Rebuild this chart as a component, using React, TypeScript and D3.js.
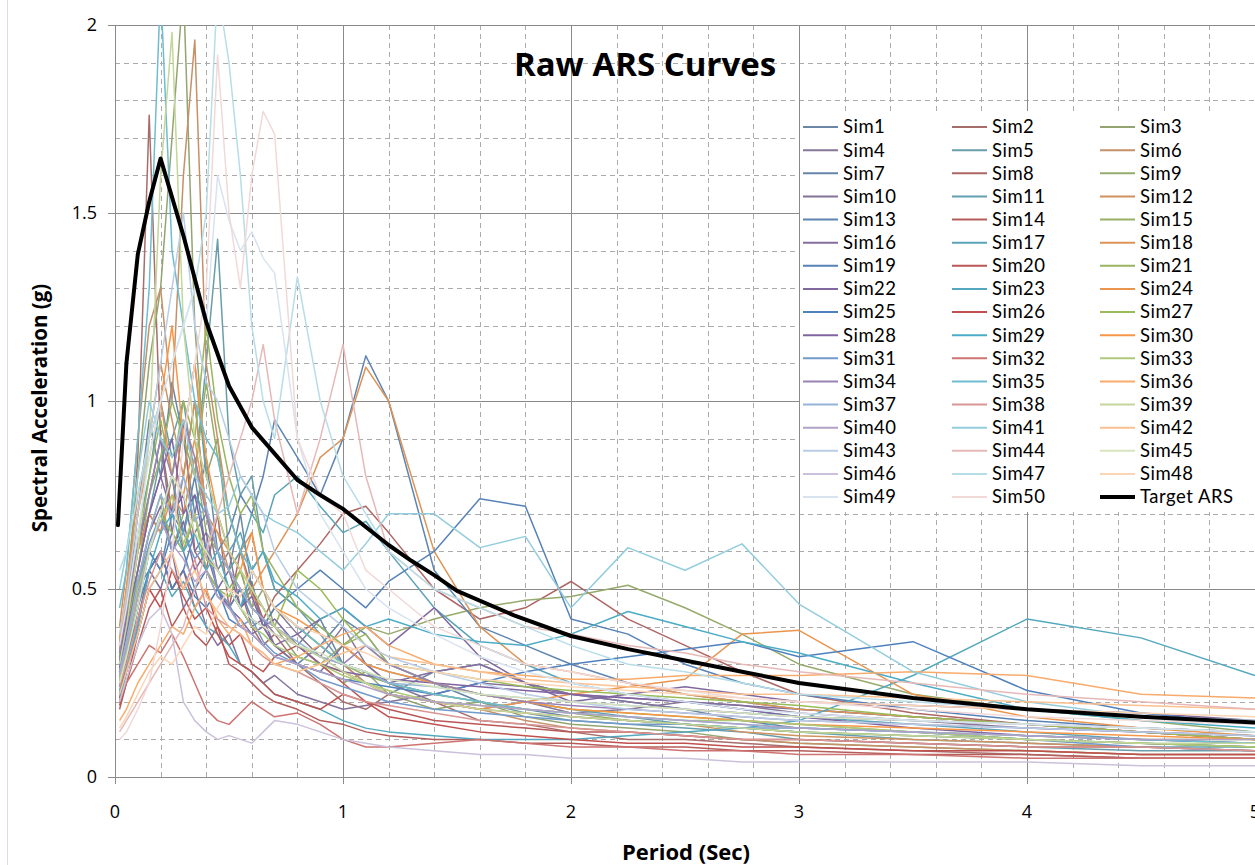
import React from 'react';
import * as d3 from 'd3';

// ---------------- DATA ----------------
const PERIODS = [0.02, 0.05, 0.1, 0.15, 0.2, 0.25, 0.3, 0.35, 0.4, 0.45, 0.5, 0.55, 0.6, 0.65, 0.7, 0.8, 0.9, 1.0, 1.1, 1.2, 1.4, 1.6, 1.8, 2.0, 2.25, 2.5, 2.75, 3.0, 3.5, 4.0, 4.5, 5.0];

const SIM1 = [0.32, 0.45, 0.7, 0.95, 0.8, 1.05, 0.9, 0.7, 0.85, 0.6, 0.55, 0.7, 0.5, 0.45, 0.4, 0.35, 0.42, 0.3, 0.25, 0.22, 0.28, 0.3, 0.25, 0.22, 0.2, 0.18, 0.15, 0.13, 0.12, 0.1, 0.09, 0.08];
const SIM2 = [0.28, 0.4, 0.85, 1.76, 0.9, 0.7, 0.95, 0.6, 0.55, 0.7, 0.45, 0.5, 0.4, 0.35, 0.38, 0.3, 0.25, 0.2, 0.18, 0.22, 0.2, 0.15, 0.14, 0.12, 0.1, 0.1, 0.09, 0.08, 0.07, 0.06, 0.05, 0.05];
const SIM3 = [0.35, 0.5, 0.8, 1.1, 1.3, 1.7, 2.1, 1.2, 0.8, 0.9, 0.6, 0.55, 0.45, 0.5, 0.4, 0.32, 0.3, 0.25, 0.28, 0.22, 0.18, 0.2, 0.16, 0.14, 0.13, 0.12, 0.1, 0.09, 0.08, 0.07, 0.06, 0.06];
const SIM4 = [0.3, 0.42, 0.6, 0.75, 0.9, 0.65, 0.8, 1.0, 0.7, 0.55, 0.6, 0.45, 0.5, 0.4, 0.45, 0.38, 0.32, 0.4, 0.3, 0.25, 0.2, 0.18, 0.2, 0.17, 0.18, 0.2, 0.19, 0.17, 0.15, 0.13, 0.12, 0.1];
const SIM5 = [0.25, 0.35, 0.55, 0.7, 0.85, 0.9, 1.0, 0.8, 1.1, 1.43, 0.9, 0.75, 0.8, 0.6, 0.5, 0.45, 0.38, 0.3, 0.28, 0.25, 0.22, 0.2, 0.17, 0.15, 0.14, 0.13, 0.12, 0.1, 0.09, 0.08, 0.07, 0.07];
const SIM6 = [0.4, 0.55, 0.9, 1.2, 1.3, 1.0, 1.6, 1.96, 1.1, 0.9, 0.7, 0.6, 0.65, 0.5, 0.45, 0.4, 0.35, 0.3, 0.25, 0.22, 0.2, 0.18, 0.15, 0.13, 0.12, 0.11, 0.1, 0.09, 0.08, 0.07, 0.06, 0.06];
const SIM7 = [0.22, 0.3, 0.45, 0.6, 0.55, 0.7, 0.65, 0.8, 0.6, 0.55, 0.5, 0.45, 0.52, 0.4, 0.35, 0.3, 0.35, 0.42, 0.38, 0.3, 0.25, 0.2, 0.18, 0.16, 0.15, 0.14, 0.13, 0.12, 0.11, 0.1, 0.09, 0.08];
const SIM8 = [0.3, 0.4, 0.55, 0.7, 0.65, 0.8, 0.6, 0.7, 0.55, 0.5, 0.45, 0.6, 0.5, 0.42, 0.48, 0.55, 0.62, 0.7, 0.72, 0.65, 0.5, 0.42, 0.45, 0.52, 0.42, 0.35, 0.28, 0.22, 0.17, 0.14, 0.12, 0.1];
const SIM9 = [0.27, 0.35, 0.5, 0.65, 0.75, 0.6, 0.7, 0.85, 0.65, 0.6, 0.5, 0.55, 0.45, 0.42, 0.38, 0.35, 0.3, 0.35, 0.4, 0.38, 0.42, 0.45, 0.47, 0.48, 0.51, 0.45, 0.38, 0.3, 0.22, 0.18, 0.15, 0.12];
const SIM10 = [0.2, 0.28, 0.4, 0.55, 0.5, 0.6, 0.45, 0.5, 0.4, 0.35, 0.38, 0.3, 0.28, 0.25, 0.27, 0.22, 0.2, 0.18, 0.19, 0.2, 0.22, 0.25, 0.24, 0.22, 0.2, 0.18, 0.17, 0.16, 0.15, 0.14, 0.13, 0.12];
const SIM11 = [0.33, 0.45, 0.65, 0.8, 1.0, 0.85, 0.9, 1.1, 0.8, 0.7, 0.6, 0.65, 0.55, 0.6, 0.5, 0.45, 0.4, 0.35, 0.3, 0.28, 0.25, 0.22, 0.2, 0.18, 0.16, 0.14, 0.13, 0.12, 0.1, 0.09, 0.08, 0.08];
const SIM12 = [0.36, 0.5, 0.75, 0.9, 1.1, 0.95, 0.8, 1.0, 0.7, 0.65, 0.55, 0.6, 0.48, 0.45, 0.4, 0.35, 0.3, 0.28, 0.25, 0.22, 0.2, 0.18, 0.17, 0.16, 0.15, 0.14, 0.12, 0.11, 0.1, 0.09, 0.08, 0.07];
const SIM13 = [0.24, 0.32, 0.5, 0.55, 0.6, 0.5, 0.55, 0.65, 0.7, 0.6, 0.65, 0.75, 0.7, 0.8, 0.95, 0.85, 0.75, 0.9, 1.12, 1.0, 0.55, 0.4, 0.35, 0.3, 0.25, 0.22, 0.2, 0.18, 0.16, 0.14, 0.12, 0.11];
const SIM14 = [0.18, 0.25, 0.35, 0.45, 0.5, 0.4, 0.45, 0.38, 0.35, 0.4, 0.3, 0.28, 0.25, 0.22, 0.2, 0.18, 0.15, 0.14, 0.12, 0.11, 0.1, 0.1, 0.09, 0.09, 0.08, 0.08, 0.07, 0.07, 0.06, 0.06, 0.05, 0.05];
const SIM15 = [0.3, 0.38, 0.55, 0.75, 0.85, 1.0, 0.9, 0.8, 1.05, 0.85, 0.7, 0.6, 0.55, 0.5, 0.45, 0.4, 0.35, 0.3, 0.27, 0.25, 0.22, 0.2, 0.18, 0.17, 0.15, 0.14, 0.13, 0.12, 0.11, 0.1, 0.09, 0.08];
const SIM16 = [0.29, 0.4, 0.6, 0.7, 0.8, 0.7, 0.75, 0.6, 0.65, 0.5, 0.55, 0.45, 0.4, 0.42, 0.35, 0.3, 0.28, 0.35, 0.3, 0.25, 0.28, 0.3, 0.25, 0.22, 0.21, 0.2, 0.19, 0.18, 0.16, 0.14, 0.12, 0.1];
const SIM17 = [0.23, 0.3, 0.45, 0.6, 0.7, 0.8, 0.65, 0.75, 0.7, 0.6, 0.55, 0.6, 0.7, 0.65, 0.75, 0.8, 0.72, 0.65, 0.68, 0.6, 0.45, 0.35, 0.3, 0.25, 0.22, 0.2, 0.18, 0.16, 0.14, 0.12, 0.1, 0.09];
const SIM18 = [0.34, 0.45, 0.6, 0.7, 0.65, 0.75, 0.7, 0.85, 0.7, 0.65, 0.6, 0.55, 0.5, 0.55, 0.6, 0.7, 0.85, 0.9, 1.09, 1.0, 0.6, 0.4, 0.3, 0.28, 0.25, 0.22, 0.2, 0.18, 0.16, 0.14, 0.12, 0.1];
const SIM19 = [0.26, 0.35, 0.5, 0.6, 0.55, 0.65, 0.6, 0.5, 0.55, 0.48, 0.45, 0.5, 0.42, 0.4, 0.45, 0.5, 0.55, 0.5, 0.45, 0.52, 0.6, 0.74, 0.72, 0.42, 0.38, 0.3, 0.25, 0.22, 0.18, 0.15, 0.13, 0.12];
const SIM20 = [0.21, 0.3, 0.42, 0.55, 0.6, 0.5, 0.55, 0.45, 0.5, 0.4, 0.35, 0.38, 0.3, 0.28, 0.32, 0.35, 0.3, 0.25, 0.2, 0.18, 0.15, 0.14, 0.13, 0.12, 0.12, 0.11, 0.1, 0.1, 0.09, 0.08, 0.08, 0.07];
const SIM21 = [0.32, 0.42, 0.6, 0.8, 0.95, 0.8, 1.0, 0.9, 1.2, 0.95, 0.8, 0.7, 0.75, 0.6, 0.55, 0.45, 0.4, 0.35, 0.38, 0.3, 0.25, 0.22, 0.2, 0.18, 0.17, 0.16, 0.15, 0.14, 0.12, 0.11, 0.1, 0.1];
const SIM22 = [0.28, 0.38, 0.52, 0.65, 0.72, 0.6, 0.68, 0.55, 0.6, 0.5, 0.45, 0.42, 0.38, 0.4, 0.35, 0.38, 0.42, 0.45, 0.4, 0.35, 0.45, 0.32, 0.25, 0.2, 0.22, 0.24, 0.22, 0.2, 0.19, 0.18, 0.17, 0.15];
const SIM23 = [0.22, 0.28, 0.38, 0.5, 0.55, 0.48, 0.52, 0.45, 0.4, 0.38, 0.35, 0.3, 0.28, 0.25, 0.22, 0.2, 0.18, 0.15, 0.13, 0.12, 0.11, 0.1, 0.1, 0.1, 0.11, 0.12, 0.13, 0.15, 0.27, 0.42, 0.37, 0.27];
const SIM24 = [0.35, 0.48, 0.7, 0.9, 1.0, 0.8, 0.75, 0.9, 0.7, 0.6, 0.55, 0.5, 0.45, 0.42, 0.4, 0.35, 0.3, 0.28, 0.25, 0.22, 0.2, 0.18, 0.2, 0.22, 0.24, 0.26, 0.38, 0.39, 0.22, 0.16, 0.13, 0.11];
const SIM25 = [0.24, 0.3, 0.45, 0.55, 0.6, 0.5, 0.55, 0.48, 0.45, 0.5, 0.42, 0.4, 0.38, 0.35, 0.32, 0.3, 0.28, 0.26, 0.25, 0.24, 0.22, 0.25, 0.28, 0.3, 0.32, 0.34, 0.36, 0.32, 0.36, 0.23, 0.17, 0.14];
const SIM26 = [0.19, 0.25, 0.38, 0.5, 0.45, 0.55, 0.48, 0.42, 0.45, 0.38, 0.32, 0.3, 0.28, 0.25, 0.22, 0.2, 0.18, 0.22, 0.2, 0.16, 0.14, 0.12, 0.11, 0.1, 0.09, 0.09, 0.08, 0.08, 0.07, 0.07, 0.06, 0.06];
const SIM27 = [0.25, 0.32, 0.48, 0.6, 0.7, 0.65, 0.6, 0.7, 0.55, 0.5, 0.48, 0.55, 0.5, 0.45, 0.4, 0.55, 0.5, 0.42, 0.35, 0.3, 0.28, 0.26, 0.24, 0.23, 0.22, 0.21, 0.2, 0.19, 0.16, 0.14, 0.12, 0.1];
const SIM28 = [0.31, 0.42, 0.55, 0.7, 0.8, 0.9, 0.7, 0.75, 0.6, 0.55, 0.5, 0.45, 0.48, 0.4, 0.42, 0.35, 0.3, 0.28, 0.27, 0.26, 0.25, 0.24, 0.23, 0.22, 0.21, 0.2, 0.18, 0.16, 0.13, 0.11, 0.1, 0.09];
const SIM29 = [0.2, 0.28, 0.4, 0.55, 0.65, 0.7, 0.6, 0.65, 0.55, 0.6, 0.5, 0.45, 0.55, 0.6, 0.52, 0.48, 0.42, 0.45, 0.4, 0.42, 0.38, 0.36, 0.35, 0.38, 0.44, 0.4, 0.36, 0.33, 0.25, 0.18, 0.15, 0.13];
const SIM30 = [0.37, 0.5, 0.7, 0.85, 1.0, 1.2, 0.9, 1.1, 0.85, 0.7, 0.6, 0.55, 0.65, 0.5, 0.45, 0.42, 0.38, 0.35, 0.3, 0.28, 0.25, 0.22, 0.2, 0.18, 0.17, 0.16, 0.15, 0.14, 0.13, 0.12, 0.11, 0.1];
const SIM31 = [0.27, 0.36, 0.5, 0.62, 0.7, 0.6, 0.65, 0.58, 0.62, 0.5, 0.46, 0.4, 0.42, 0.36, 0.33, 0.3, 0.26, 0.24, 0.22, 0.2, 0.18, 0.17, 0.16, 0.15, 0.14, 0.14, 0.13, 0.13, 0.12, 0.1, 0.08, 0.07];
const SIM32 = [0.2, 0.25, 0.3, 0.35, 0.33, 0.38, 0.32, 0.25, 0.18, 0.15, 0.14, 0.17, 0.2, 0.18, 0.16, 0.17, 0.14, 0.1, 0.08, 0.08, 0.09, 0.1, 0.09, 0.08, 0.08, 0.07, 0.07, 0.06, 0.06, 0.05, 0.05, 0.05];
const SIM33 = [0.26, 0.34, 0.5, 0.6, 0.68, 0.75, 0.62, 0.7, 0.58, 0.55, 0.5, 0.45, 0.4, 0.38, 0.35, 0.32, 0.3, 0.27, 0.25, 0.23, 0.2, 0.19, 0.18, 0.17, 0.16, 0.15, 0.15, 0.14, 0.12, 0.1, 0.09, 0.08];
const SIM34 = [0.33, 0.44, 0.62, 0.75, 0.9, 0.8, 0.95, 0.85, 0.7, 0.6, 0.55, 0.5, 0.45, 0.42, 0.38, 0.35, 0.32, 0.3, 0.35, 0.3, 0.25, 0.22, 0.2, 0.19, 0.18, 0.17, 0.16, 0.15, 0.14, 0.13, 0.12, 0.11];
const SIM35 = [0.45, 0.55, 0.9, 1.3, 2.1, 1.4, 1.2, 1.0, 0.9, 0.85, 0.7, 0.6, 0.55, 0.5, 0.45, 0.4, 0.35, 0.3, 0.28, 0.25, 0.22, 0.2, 0.18, 0.17, 0.16, 0.15, 0.14, 0.13, 0.12, 0.11, 0.1, 0.09];
const SIM36 = [0.15, 0.18, 0.25, 0.3, 0.35, 0.4, 0.38, 0.45, 0.5, 0.42, 0.38, 0.42, 0.35, 0.33, 0.3, 0.32, 0.35, 0.38, 0.4, 0.35, 0.3, 0.28, 0.27, 0.26, 0.26, 0.27, 0.27, 0.27, 0.28, 0.27, 0.22, 0.21];
const SIM37 = [0.28, 0.36, 0.52, 0.65, 0.75, 0.7, 0.8, 0.68, 0.72, 0.6, 0.55, 0.5, 0.45, 0.42, 0.4, 0.36, 0.32, 0.3, 0.28, 0.25, 0.24, 0.22, 0.21, 0.2, 0.19, 0.18, 0.17, 0.16, 0.15, 0.14, 0.13, 0.12];
const SIM38 = [0.24, 0.3, 0.42, 0.52, 0.6, 0.55, 0.5, 0.58, 0.45, 0.42, 0.4, 0.38, 0.35, 0.32, 0.3, 0.28, 0.25, 0.22, 0.2, 0.19, 0.17, 0.15, 0.14, 0.13, 0.12, 0.11, 0.1, 0.1, 0.09, 0.08, 0.08, 0.07];
const SIM39 = [0.3, 0.4, 0.6, 0.9, 1.6, 1.98, 1.2, 0.9, 0.8, 0.7, 0.6, 0.55, 0.5, 0.45, 0.4, 0.35, 0.32, 0.28, 0.25, 0.22, 0.2, 0.18, 0.17, 0.16, 0.15, 0.14, 0.13, 0.12, 0.11, 0.1, 0.09, 0.09];
const SIM40 = [0.27, 0.34, 0.48, 0.6, 0.68, 0.62, 0.58, 0.52, 0.55, 0.48, 0.45, 0.4, 0.38, 0.35, 0.32, 0.3, 0.28, 0.26, 0.24, 0.22, 0.2, 0.19, 0.18, 0.17, 0.16, 0.15, 0.14, 0.13, 0.12, 0.11, 0.1, 0.1];
const SIM41 = [0.5, 0.6, 0.8, 1.0, 0.9, 0.85, 0.95, 0.8, 0.75, 0.7, 0.72, 0.8, 0.75, 0.7, 0.68, 0.65, 0.6, 0.55, 0.62, 0.7, 0.7, 0.61, 0.64, 0.45, 0.61, 0.55, 0.62, 0.46, 0.28, 0.2, 0.16, 0.14];
const SIM42 = [0.22, 0.28, 0.38, 0.5, 0.55, 0.6, 0.5, 0.55, 0.48, 0.44, 0.4, 0.38, 0.35, 0.33, 0.3, 0.28, 0.3, 0.33, 0.35, 0.32, 0.3, 0.28, 0.26, 0.25, 0.24, 0.23, 0.22, 0.22, 0.21, 0.2, 0.19, 0.18];
const SIM43 = [0.38, 0.48, 0.7, 0.9, 1.1, 1.3, 1.5, 1.2, 1.05, 1.0, 0.9, 0.8, 0.75, 0.7, 0.6, 0.5, 0.45, 0.4, 0.35, 0.32, 0.28, 0.25, 0.22, 0.2, 0.18, 0.17, 0.16, 0.15, 0.14, 0.13, 0.12, 0.11];
const SIM44 = [0.12, 0.15, 0.2, 0.25, 0.3, 0.35, 0.4, 0.5, 0.6, 0.7, 0.8, 0.9, 1.0, 1.15, 0.95, 0.7, 0.9, 1.15, 0.8, 0.6, 0.5, 0.45, 0.4, 0.38, 0.35, 0.33, 0.3, 0.28, 0.25, 0.22, 0.2, 0.18];
const SIM45 = [0.25, 0.32, 0.45, 0.6, 0.7, 0.8, 0.75, 0.65, 0.6, 0.55, 0.5, 0.45, 0.42, 0.4, 0.38, 0.35, 0.33, 0.3, 0.28, 0.26, 0.24, 0.22, 0.21, 0.2, 0.19, 0.18, 0.17, 0.16, 0.15, 0.14, 0.13, 0.12];
const SIM46 = [0.2, 0.26, 0.35, 0.42, 0.45, 0.38, 0.2, 0.15, 0.12, 0.1, 0.11, 0.1, 0.09, 0.12, 0.15, 0.14, 0.12, 0.1, 0.09, 0.08, 0.07, 0.06, 0.06, 0.05, 0.05, 0.05, 0.04, 0.04, 0.04, 0.04, 0.03, 0.03];
const SIM47 = [0.55, 0.6, 0.75, 0.9, 1.0, 1.1, 1.2, 1.3, 1.5, 2.1, 1.9, 1.6, 1.2, 1.0, 0.9, 1.33, 1.0, 0.8, 0.7, 0.6, 0.5, 0.45, 0.4, 0.35, 0.3, 0.28, 0.25, 0.22, 0.2, 0.18, 0.16, 0.15];
const SIM48 = [0.13, 0.16, 0.22, 0.28, 0.32, 0.3, 0.35, 0.4, 0.38, 0.45, 0.5, 0.48, 0.55, 0.5, 0.45, 0.4, 0.38, 0.35, 0.33, 0.3, 0.28, 0.26, 0.25, 0.24, 0.23, 0.22, 0.21, 0.2, 0.19, 0.18, 0.17, 0.16];
const SIM49 = [0.35, 0.45, 0.65, 0.85, 1.0, 1.1, 1.2, 1.3, 1.2, 1.6, 1.48, 1.4, 1.45, 1.38, 1.34, 0.9, 0.7, 0.6, 0.5, 0.45, 0.38, 0.32, 0.28, 0.25, 0.22, 0.2, 0.18, 0.17, 0.15, 0.14, 0.13, 0.12];
const SIM50 = [0.1, 0.12, 0.18, 0.25, 0.4, 0.6, 0.9, 1.1, 1.3, 1.92, 1.5, 1.3, 1.6, 1.77, 1.71, 0.9, 0.75, 0.7, 0.55, 0.5, 0.4, 0.35, 0.3, 0.28, 0.25, 0.23, 0.21, 0.2, 0.18, 0.16, 0.15, 0.14];

const SIMS = [SIM1, SIM2, SIM3, SIM4, SIM5, SIM6, SIM7, SIM8, SIM9, SIM10, SIM11, SIM12, SIM13, SIM14, SIM15, SIM16, SIM17, SIM18, SIM19, SIM20, SIM21, SIM22, SIM23, SIM24, SIM25, SIM26, SIM27, SIM28, SIM29, SIM30, SIM31, SIM32, SIM33, SIM34, SIM35, SIM36, SIM37, SIM38, SIM39, SIM40, SIM41, SIM42, SIM43, SIM44, SIM45, SIM46, SIM47, SIM48, SIM49, SIM50];
const SIM_NAMES = SIMS.map((_, i) => `Sim${i + 1}`);

const TARGET_PERIODS = [0.013, 0.05, 0.1, 0.15, 0.2, 0.3, 0.4, 0.5, 0.6, 0.7, 0.8, 0.9, 1.0, 1.1, 1.2, 1.3, 1.4, 1.5, 1.75, 2.0, 2.25, 2.5, 2.75, 3.0, 3.5, 4.0, 4.5, 5.0];
const TARGET_VALUES = [0.67, 1.1, 1.39, 1.53, 1.645, 1.44, 1.21, 1.04, 0.93, 0.86, 0.79, 0.75, 0.713, 0.665, 0.617, 0.575, 0.537, 0.495, 0.43, 0.375, 0.34, 0.31, 0.28, 0.25, 0.21, 0.18, 0.16, 0.145];
const TARGET_NAME = 'Target ARS';

const X_TICKS = [0, 1, 2, 3, 4, 5];
const Y_TICKS = [0, 0.5, 1, 1.5, 2];
const Y_TICK_LABELS = ['0', '0.5', '1', '1.5', '2'];

const TITLE = 'Raw ARS Curves';
const X_TITLE = 'Period (Sec)';
const Y_TITLE = 'Spectral Acceleration (g)';

// ---------------- STYLE ----------------
const BASE_COLORS = ['#4F81BD', '#C0504D', '#9BBB59', '#8064A2', '#4BACC6', '#F79646'];
function simColor(i: number): string {
  const k = Math.floor(i / 6);
  const c = BASE_COLORS[i % 6];
  if (k < 4) return d3.interpolateRgb(c, '#8c8c8c')((4 - k) * 0.12);
  return d3.interpolateRgb(c, '#ffffff')(Math.min(0.78, (k - 4) * 0.2));
}

const FONT = "'Open Sans', 'Noto Sans', sans-serif";
const LEGEND_FONT = "Lato, 'Open Sans', sans-serif";

export default function App() {
  const W = 1255;
  const H = 865;
  const x = d3.scaleLinear().domain([0, 5]).range([115, 1255]);
  const y = d3.scaleLinear().domain([0, 2]).range([777, 25]);

  const line = d3
    .line<[number, number]>()
    .x((d) => x(d[0]))
    .y((d) => y(d[1]))
    .curve(d3.curveLinear);

  const minorX = d3.range(0, 5.001, 0.2).filter((v) => Math.abs(v - Math.round(v)) > 1e-6);
  const minorY = d3.range(0, 2.001, 0.1).filter((v) => Math.abs(v * 2 - Math.round(v * 2)) > 1e-6);

  const [x0, x1] = x.range();
  const [y0, y1] = y.range();

  const legendItems = [...SIM_NAMES.map((n, i) => ({ name: n, color: simColor(i), w: 2 })), { name: TARGET_NAME, color: '#000', w: 4 }];
  const colSample = [803, 952, 1100];
  const colText = [843, 992, 1140];

  return (
    <svg width={W} height={H} style={{ position: 'absolute', left: 0, top: 0, background: '#fff' }} fontFamily={FONT}>
      <defs>
        <clipPath id="plotclip">
          <rect x={x0} y={y1} width={x1 - x0 + 10} height={y0 - y1} />
        </clipPath>
      </defs>
      <rect x={0} y={0} width={W} height={H} fill="#fff" />
      <line x1={7.5} x2={7.5} y1={0} y2={H} stroke="#d5dde6" strokeWidth={1} />

      {/* minor grid */}
      <g stroke="#ababab" strokeWidth={1} strokeDasharray="5,4">
        {minorX.map((v) => (
          <line key={'mx' + v} x1={Math.round(x(v)) + 0.5} x2={Math.round(x(v)) + 0.5} y1={y1} y2={y0} />
        ))}
        {minorY.map((v) => (
          <line key={'my' + v} x1={x0} x2={W + 5} y1={Math.round(y(v)) + 0.5} y2={Math.round(y(v)) + 0.5} />
        ))}
      </g>
      {/* major grid */}
      <g stroke="#8a8a8a" strokeWidth={1}>
        {X_TICKS.map((v) => (
          <line key={'gx' + v} x1={Math.round(x(v)) + 0.5} x2={Math.round(x(v)) + 0.5} y1={y1} y2={y0 + 7} />
        ))}
        {Y_TICKS.map((v) => (
          <line key={'gy' + v} x1={x0 - 7} x2={W + 5} y1={Math.round(y(v)) + 0.5} y2={Math.round(y(v)) + 0.5} />
        ))}
      </g>

      {/* sim curves */}
      <g clipPath="url(#plotclip)" fill="none" strokeLinejoin="round">
        {SIMS.map((vals, i) => {
          const pts = vals
            .map((v, j) => [PERIODS[j], v] as [number, number])
            .filter((p) => p[0] !== undefined);
          return <path key={'s' + i} d={line(pts) || ''} stroke={simColor(i)} strokeWidth={1.5} />;
        })}
        <path
          d={line(TARGET_PERIODS.map((p, j) => [p, TARGET_VALUES[j]] as [number, number])) || ''}
          stroke="#000"
          strokeWidth={4}
          strokeLinejoin="round"
          strokeLinecap="round"
        />
      </g>

      {/* axis tick labels */}
      <g fontSize={18} fill="#000">
        {Y_TICKS.map((v, i) => (
          <text key={'yl' + v} x={97} y={y(v)} textAnchor="end" dy="0.35em">
            {Y_TICK_LABELS[i]}
          </text>
        ))}
        {X_TICKS.map((v) => (
          <text key={'xl' + v} x={x(v)} y={812} textAnchor="middle" dy="0.35em">
            {v}
          </text>
        ))}
      </g>

      {/* titles */}
      <text x={645} y={64} textAnchor="middle" dy="0.35em" fontSize={33} fontWeight={700}>
        {TITLE}
      </text>
      <text x={686} y={852} textAnchor="middle" dy="0.35em" fontSize={22} fontWeight={700}>
        {X_TITLE}
      </text>
      <text
        transform={`translate(40, ${408}) rotate(-90)`}
        textAnchor="middle"
        dy="0.35em"
        fontSize={20.5}
        fontWeight={700}
      >
        {Y_TITLE}
      </text>

      {/* legend */}
      <rect x={800} y={111} width={470} height={401} fill="#fff" />
      <g fontSize={18.5} fontFamily={LEGEND_FONT} letterSpacing={0.5}>
        {legendItems.map((it, j) => {
          const col = j % 3;
          const row = Math.floor(j / 3);
          const ly = 127 + row * 23.125;
          return (
            <g key={'lg' + j}>
              <line x1={colSample[col]} x2={colSample[col] + 35} y1={ly} y2={ly} stroke={it.color} strokeWidth={it.w} />
              <text x={colText[col]} y={ly} dy="0.35em">
                {it.name}
              </text>
            </g>
          );
        })}
      </g>
    </svg>
  );
}
